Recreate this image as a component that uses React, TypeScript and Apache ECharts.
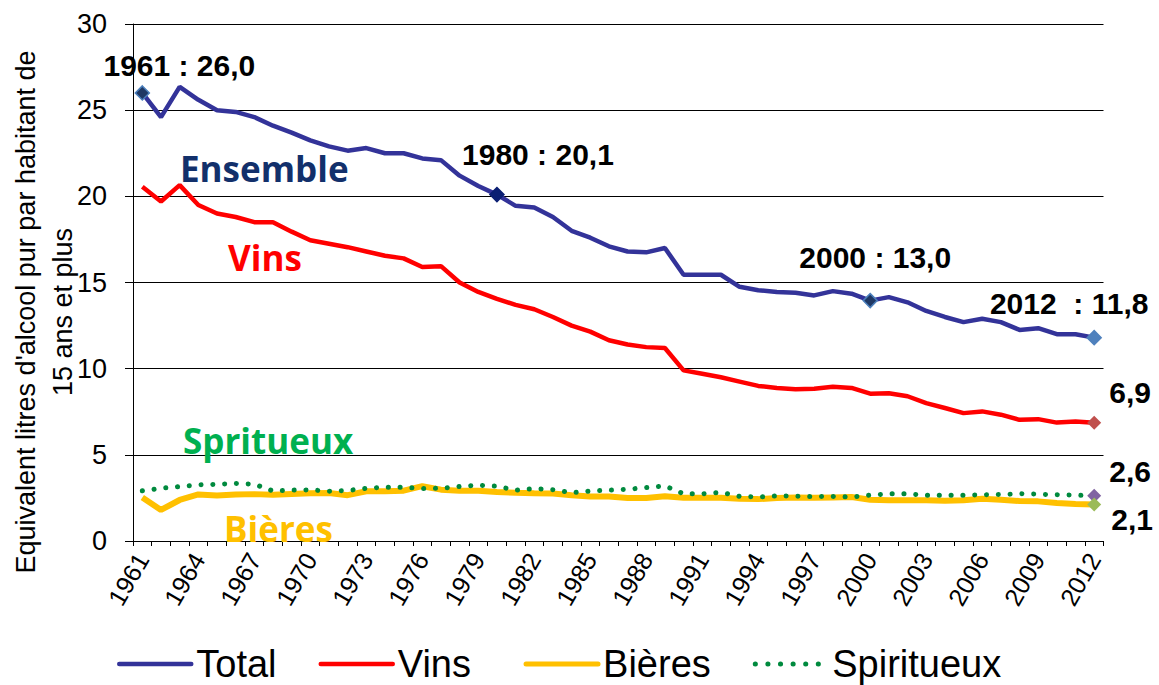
import React, { useEffect, useRef } from "react";
import * as echarts from "echarts";

const years = [
  "1961","1962","1963","1964","1965","1966","1967","1968","1969","1970",
  "1971","1972","1973","1974","1975","1976","1977","1978","1979","1980",
  "1981","1982","1983","1984","1985","1986","1987","1988","1989","1990",
  "1991","1992","1993","1994","1995","1996","1997","1998","1999","2000",
  "2001","2002","2003","2004","2005","2006","2007","2008","2009","2010",
  "2011","2012",
];

const total = [
  26.0, 24.6, 26.35, 25.6, 25.0, 24.9, 24.6, 24.1, 23.7, 23.25,
  22.9, 22.65, 22.8, 22.5, 22.5, 22.2, 22.1, 21.2, 20.6, 20.1,
  19.45, 19.35, 18.8, 18.0, 17.6, 17.1, 16.8, 16.75, 17.0, 15.45,
  15.45, 15.45, 14.75, 14.55, 14.45, 14.4, 14.25, 14.5, 14.35, 13.95,
  14.15, 13.85, 13.35, 13.0, 12.7, 12.9, 12.7, 12.25, 12.35, 12.0,
  12.0, 11.8,
];

const vins = [
  20.55, 19.7, 20.65, 19.5, 19.0, 18.8, 18.5, 18.5, 17.95, 17.45,
  17.25, 17.05, 16.8, 16.55, 16.4, 15.9, 15.95, 15.0, 14.45, 14.05,
  13.7, 13.45, 13.0, 12.5, 12.15, 11.65, 11.4, 11.25, 11.2, 9.9,
  9.7, 9.5, 9.25, 9.0, 8.88, 8.8, 8.84, 8.95, 8.88, 8.55,
  8.57, 8.4, 8.0, 7.72, 7.42, 7.52, 7.33, 7.03, 7.07, 6.87,
  6.94, 6.86,
];

const bieres = [
  2.52, 1.8, 2.38, 2.7, 2.64, 2.7, 2.72, 2.69, 2.73, 2.77,
  2.79, 2.66, 2.89, 2.89, 2.92, 3.18, 2.98, 2.92, 2.91, 2.84,
  2.8, 2.77, 2.75, 2.66, 2.58, 2.58, 2.5, 2.49, 2.6, 2.51,
  2.51, 2.51, 2.45, 2.43, 2.49, 2.53, 2.51, 2.53, 2.55, 2.39,
  2.37, 2.37, 2.36, 2.34, 2.37, 2.45, 2.39, 2.32, 2.3, 2.2,
  2.15, 2.12,
];

const spiritueux = [
  2.91, 3.06, 3.16, 3.26, 3.29, 3.34, 3.3, 2.9, 2.95, 2.97,
  2.89, 2.93, 3.06, 3.12, 3.12, 3.04, 3.06, 3.16, 3.24, 3.18,
  2.95, 3.04, 2.98, 2.8, 2.9, 2.95, 3.0, 3.1, 3.2, 2.74,
  2.74, 2.82, 2.59, 2.55, 2.62, 2.6, 2.57, 2.59, 2.55, 2.66,
  2.74, 2.74, 2.66, 2.66, 2.66, 2.68, 2.7, 2.74, 2.72, 2.68,
  2.66, 2.62,
];

const seriesNames = ["Total", "Vins", "Bières", "Spiritueux"];
const yTicks = [0, 5, 10, 15, 20, 25, 30];

const totalNoteYears = ["1961", "1980", "2000", "2012"];
const totalNotes = ["1961 : 26,0", "1980 : 20,1", "2000 : 13,0", "2012  : 11,8"];
const endNotes = ["6,9", "2,6", "2,1"];

const yAxisTitle = "Equivalent litres d'alcool pur par habitant de\n15 ans et plus";

export default function App() {
  const ref = useRef<HTMLDivElement>(null);

  useEffect(() => {
    if (!ref.current) return;
    const chart = echarts.init(ref.current, null, { renderer: "svg" });
    const font = "Arial, 'Liberation Sans', sans-serif";
    const lastIdx = years.length - 1;

    const totalMarkerStyle = [
      { fill: "#1F3864", border: "#4A7EBB", offset: [37, -27] },
      { fill: "#0B1F73", border: "#0B1F73", offset: [41, -40] },
      { fill: "#1F3864", border: "#4A7EBB", offset: [5, -43] },
      { fill: "#4F81BD", border: "#4F81BD", offset: [-25, -34] },
    ];

    const noteLabel = (text: string, offset: number[]) => ({
      show: true,
      position: "inside",
      offset,
      formatter: text,
      color: "#000",
      opacity: 1,
      fontSize: 30,
      fontWeight: "bold",
      fontFamily: font,
      textBorderWidth: 0,
    });

    const markerData: any[] = totalNoteYears.map((y, i) => {
      const idx = years.indexOf(y);
      const st = totalMarkerStyle[i];
      return {
        value: [idx, total[idx]],
        itemStyle: { color: st.fill, borderColor: st.border, borderWidth: 1.5, opacity: 1 },
        label: noteLabel(totalNotes[i], st.offset),
      };
    });
    markerData.push({
      value: [lastIdx, vins[lastIdx]],
      itemStyle: { color: "#C0504D", opacity: 1 },
      label: noteLabel(endNotes[0], [36, -30]),
    });
    markerData.push({
      value: [lastIdx, spiritueux[lastIdx]],
      itemStyle: { color: "#8064A2", opacity: 1 },
      label: noteLabel(endNotes[1], [36, -24]),
    });
    markerData.push({
      value: [lastIdx, bieres[lastIdx]],
      itemStyle: { color: "#9BBB59", opacity: 1 },
      label: noteLabel(endNotes[2], [38, 15]),
    });

    const lineBase = {
      type: "line",
      symbol: "none",
      showSymbol: false,
      smooth: false,
      z: 2,
    };

    const seriesLabelFont = "'Open Sans', 'Noto Sans', sans-serif";
    const nameText = (text: string, x: number, y: number, color: string) => ({
      type: "text",
      x,
      y,
      style: {
        text,
        fill: color,
        fontSize: 35,
        fontWeight: "bold",
        fontFamily: seriesLabelFont,
        align: "left",
        verticalAlign: "middle",
      },
      z: 10,
    });

    chart.setOption({
      animation: false,
      textStyle: { fontFamily: font },
      grid: {
        left: 133,
        right: 55.5,
        top: 24,
        bottom: 144,
        containLabel: false,
        outerBoundsMode: "none",
      },
      xAxis: {
        type: "category",
        data: years,
        boundaryGap: true,
        axisLine: { show: true, lineStyle: { color: "#000", width: 1 } },
        axisTick: { show: true, interval: 0, length: 5, lineStyle: { color: "#000" } },
        axisLabel: {
          show: true,
          interval: 2,
          rotate: 60,
          margin: 14,
          color: "#000",
          fontSize: 25,
          fontFamily: font,
          hideOverlap: false,
        },
        splitLine: { show: false },
      },
      yAxis: {
        type: "value",
        min: yTicks[0],
        max: yTicks[yTicks.length - 1],
        interval: 5,
        axisLine: { show: true, lineStyle: { color: "#000", width: 1 } },
        axisTick: { show: true, length: 8, lineStyle: { color: "#000" } },
        axisLabel: { fontSize: 27, color: "#000", margin: 26, fontFamily: font },
        splitLine: { show: true, lineStyle: { color: "#000", width: 1 } },
      },
      legend: {
        data: [
          { name: seriesNames[0], lineStyle: { width: 4.5, cap: "round" } },
          { name: seriesNames[1], lineStyle: { width: 4.5, cap: "round" } },
          { name: seriesNames[2], lineStyle: { width: 5, cap: "round" } },
          { name: seriesNames[3], lineStyle: { width: 5, type: [0.1, 12.5], cap: "round" } },
        ],
        formatter: (name: string) => (name === seriesNames[1] ? name + " " : name),
        left: 112,
        top: 640,
        itemWidth: 72,
        itemHeight: 14,
        itemGap: 42,
        itemStyle: { color: "transparent", borderColor: "transparent", borderWidth: 0, opacity: 0 },
        textStyle: { fontSize: 38, color: "#000", fontFamily: font },
      },
      graphic: [
        {
          type: "text",
          x: 44,
          y: 312,
          rotation: Math.PI / 2,
          style: {
            text: yAxisTitle,
            fill: "#000",
            fontSize: 27,
            fontFamily: font,
            align: "center",
            verticalAlign: "middle",
            lineHeight: 37,
          },
        },
        nameText("Ensemble", 180, 168, "#12306B"),
        nameText("Vins", 228, 257, "#FF0000"),
        nameText("Spritueux", 183, 440, "#00B050"),
        nameText("Bières", 224, 528, "#FFC000"),
      ],
      series: [
        {
          ...lineBase,
          name: seriesNames[0],
          data: total,
          lineStyle: { color: "#333399", width: 4.5 },
          itemStyle: { color: "#333399" },
        },
        {
          ...lineBase,
          name: seriesNames[1],
          data: vins,
          lineStyle: { color: "#FF0000", width: 4.5 },
          itemStyle: { color: "#FF0000" },
        },
        {
          ...lineBase,
          name: seriesNames[2],
          data: bieres,
          lineStyle: { color: "#FFC000", width: 6 },
          itemStyle: { color: "#FFC000" },
        },
        {
          ...lineBase,
          name: seriesNames[3],
          data: spiritueux,
          lineStyle: { color: "#008A3E", width: 5, type: [0.1, 11.7], cap: "round" },
          itemStyle: { color: "#008A3E" },
        },
        {
          type: "scatter",
          name: "marqueurs",
          symbol: "diamond",
          symbolSize: 14,
          data: markerData,
          itemStyle: { opacity: 1 },
          z: 5,
        },
      ],
    });

    return () => {
      chart.dispose();
    };
  }, []);

  return (
    <div
      ref={ref}
      style={{ position: "fixed", left: 0, top: 0, width: 1159, height: 685, background: "#fff" }}
    />
  );
}
